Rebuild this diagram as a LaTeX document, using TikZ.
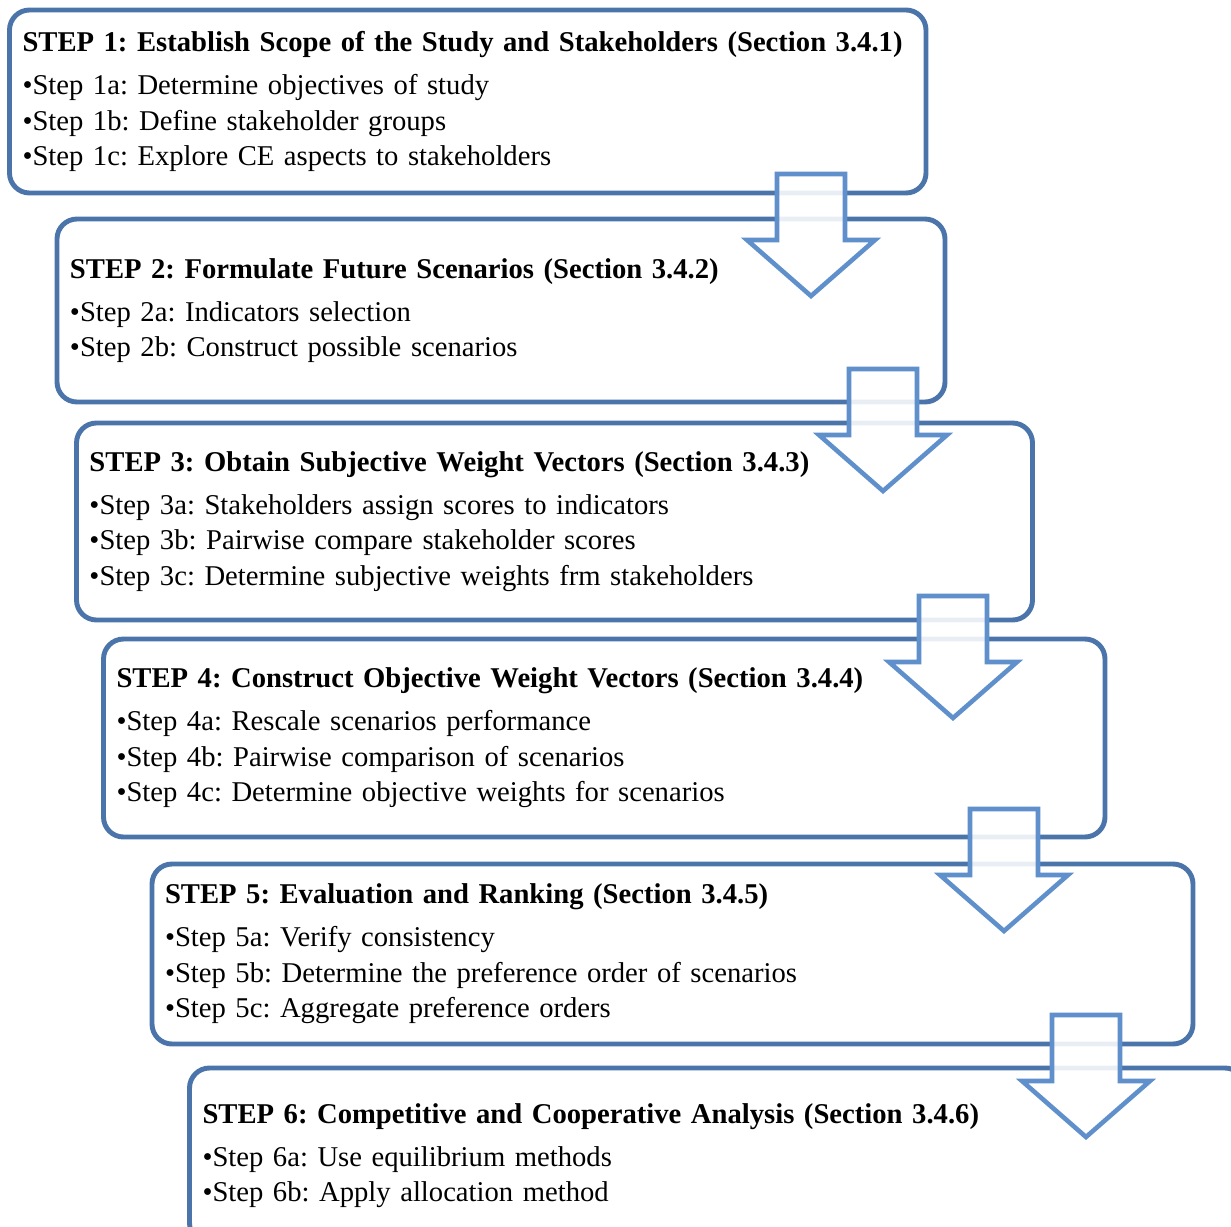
\documentclass[tikz,border=0pt]{standalone}
\usepackage{fontspec}
\setmainfont{Liberation Serif}
\usetikzlibrary{positioning}
\definecolor{boxblue}{RGB}{74,116,170}
\definecolor{arrowblue}{RGB}{96,144,204}
\tikzset{
  stepbox/.style={draw=boxblue, line width=2.8pt, rounded corners=0.4cm, fill=white,
    align=left, inner xsep=0.26cm, font=\fontsize{16.3}{20.2}\selectfont\frenchspacing},
  flowarrow/.style={draw=arrowblue, line width=2.6pt, fill=white, fill opacity=0.88},
}
\newcommand{\steptitle}[1]{\mbox{\textbf{#1}}\\[0.15cm]}

\begin{document}
\begin{tikzpicture}
  \useasboundingbox (0,0) rectangle (24.62,-24.54);
  \clip (0,0) rectangle (24.62,-24.54);

  % Step boxes
  \node[stepbox, minimum width=18.33cm, minimum height=3.66cm, text width=17.81cm] (s1) at (9.355,-2.03)
    {\steptitle{STEP 1: Establish Scope of the Study and Stakeholders (Section 3.4.1)}
     •Step 1a: Determine objectives of study\\
     •Step 1b: Define stakeholder groups\\
     •Step 1c: Explore CE aspects to stakeholders};
  \node[stepbox, minimum width=17.76cm, minimum height=3.66cm, text width=17.24cm] (s2) at (10.02,-6.21)
    {\steptitle{STEP 2: Formulate Future Scenarios (Section 3.4.2)}
     •Step 2a: Indicators selection\\
     •Step 2b: Construct possible scenarios};
  \node[stepbox, minimum width=19.12cm, minimum height=3.94cm, text width=18.6cm] (s3) at (11.09,-10.43)
    {\steptitle{STEP 3: Obtain Subjective Weight Vectors (Section 3.4.3)}
     •Step 3a: Stakeholders assign scores to indicators\\
     •Step 3b: Pairwise compare stakeholder scores\\
     •Step 3c: Determine subjective weights frm stakeholders};
  \node[stepbox, minimum width=20.03cm, minimum height=3.96cm, text width=19.51cm] (s4) at (12.085,-14.76)
    {\steptitle{STEP 4: Construct Objective Weight Vectors (Section 3.4.4)}
     •Step 4a: Rescale scenarios performance\\
     •Step 4b: Pairwise comparison of scenarios\\
     •Step 4c: Determine objective weights for scenarios};
  \node[stepbox, minimum width=20.82cm, minimum height=3.6cm, text width=20.3cm] (s5) at (13.45,-19.08)
    {\steptitle{STEP 5: Evaluation and Ranking (Section 3.4.5)}
     •Step 5a: Verify consistency\\
     •Step 5b: Determine the preference order of scenarios\\
     •Step 5c: Aggregate preference orders};
  \node[stepbox, minimum width=21.11cm, minimum height=3.5cm, text width=20.59cm] (s6) at (14.345,-23.11)
    {\steptitle{STEP 6: Competitive and Cooperative Analysis (Section 3.4.6)}
     •Step 6a: Use equilibrium methods\\
     •Step 6b: Apply allocation method};

  % Block arrows between steps
  \coordinate (a1) at (16.22,-3.48);
  \coordinate (a2) at (17.66,-7.38);
  \coordinate (a3) at (19.06,-11.92);
  \coordinate (a4) at (20.08,-16.18);
  \coordinate (a5) at (21.72,-20.3);
  \foreach \a in {a1,a2,a3,a4,a5}
    \draw[flowarrow] (\a) ++(-0.68,0) -- ++(1.36,0) -- ++(0,-1.32) -- ++(0.6,0)
      -- ++(-1.28,-1.12) -- ++(-1.28,1.12) -- ++(0.6,0) -- cycle;
\end{tikzpicture}
\end{document}
